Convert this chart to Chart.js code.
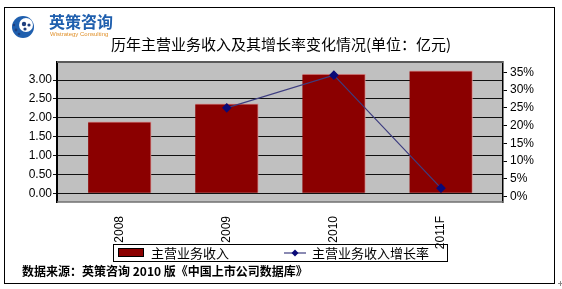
<!DOCTYPE html>
<html>
<head>
<meta charset="utf-8">
<script src="https://cdn.jsdelivr.net/npm/chart.js@4/dist/chart.umd.min.js"></script>
<style>
  html, body { margin: 0; padding: 0; background: #ffffff; }
  #c { display: block; }
</style>
</head>
<body>
<canvas id="c" width="562" height="289" style="width:562px;height:289px"></canvas>
<script>
// ---- data ----
const categories = ['2008', '2009', '2010', '2011F'];
const revenue = [1.89, 2.37, 3.16, 3.24];          // 主营业务收入 (亿元)
const growth = [null, 25.0, 34.2, 2.4];            // 增长率 (%)
const leftTicks = [0, 0.5, 1, 1.5, 2, 2.5, 3];
const rightTicks = [0, 5, 10, 15, 20, 25, 30, 35];
const seriesNames = ['主营业务收入', '主营业务收入增长率'];
const titleText = '历年主营业务收入及其增长率变化情况(单位：亿元)';
const sourceText = '数据来源：英策咨询 2010 版《中国上市公司数据库》';
const logoCn = '英策咨询';
const logoEn = 'Wistrategy Consulting';

const BAR_COLOR = '#8B0000';
const LINE_COLOR = '#3d3d80';
const POINT_COLOR = '#0a0a78';
const CJK = '"Noto Sans CJK SC", "Noto Sans CJK TC", sans-serif';
const LAT = '"Liberation Sans", Arial, sans-serif';

const decor = {
  id: 'decor',
  beforeDraw(chart) {
    const ctx = chart.ctx, a = chart.chartArea;
    ctx.save();
    ctx.fillStyle = '#ffffff';
    ctx.fillRect(0, 0, chart.width, chart.height);
    ctx.fillStyle = '#c0c0c0';
    ctx.fillRect(a.left, a.top, a.right - a.left, a.bottom - a.top);
    ctx.restore();
  },
  afterDraw(chart) {
    const ctx = chart.ctx, a = chart.chartArea;
    ctx.save();
    // plot frame top / bottom
    ctx.strokeStyle = '#5a5a5a';
    ctx.lineWidth = 2;
    ctx.beginPath(); ctx.moveTo(a.left, a.top); ctx.lineTo(a.right, a.top); ctx.stroke();
    ctx.strokeStyle = '#707070';
    ctx.lineWidth = 1.5;
    ctx.beginPath(); ctx.moveTo(a.left, a.bottom); ctx.lineTo(a.right, a.bottom); ctx.stroke();

    // outer frame
    ctx.strokeStyle = '#000';
    ctx.lineWidth = 1;
    ctx.strokeRect(4.5, 7.5, 550, 276);

    // small anchor mark
    ctx.strokeStyle = '#888';
    ctx.beginPath(); ctx.moveTo(558, 283.5); ctx.lineTo(562, 283.5); ctx.moveTo(560.5, 281); ctx.lineTo(560.5, 286); ctx.stroke();

    // logo icon
    ctx.fillStyle = '#1f5fae';
    ctx.beginPath(); ctx.arc(23, 27, 11, 0, Math.PI * 2); ctx.fill();
    ctx.fillStyle = '#ffffff';
    ctx.beginPath(); ctx.arc(26, 25, 7, 0, Math.PI * 2); ctx.fill();
    ctx.fillStyle = '#1f3f7e';
    [[24, 24, 2.2], [29, 25, 1.6], [25, 29, 1.6], [16, 30, 1.4], [19, 34, 1.3], [14, 25, 1.2]].forEach(p => {
      ctx.beginPath(); ctx.arc(p[0], p[1], p[2], 0, Math.PI * 2); ctx.fill();
    });
    ctx.fillStyle = '#1f5fae';
    ctx.font = 'bold 16px ' + CJK;
    ctx.textBaseline = 'middle';
    ctx.textAlign = 'left';
    ctx.fillText(logoCn, 49, 22);
    ctx.fillStyle = '#e0902a';
    ctx.font = '6px ' + LAT;
    ctx.fillText(logoEn, 50, 34);

    // title
    ctx.fillStyle = '#000';
    ctx.font = '15px ' + CJK;
    ctx.textAlign = 'center';
    ctx.fillText(titleText, 281, 44);

    // legend
    ctx.strokeStyle = '#000';
    ctx.lineWidth = 1;
    ctx.strokeRect(113.5, 244.5, 334, 17);
    const ds = chart.data.datasets;
    ctx.fillStyle = ds[0].backgroundColor;
    ctx.fillRect(118, 248, 26, 9);
    ctx.strokeStyle = '#000';
    ctx.strokeRect(118.5, 248.5, 25, 8);
    ctx.fillStyle = '#000';
    ctx.font = '13px ' + CJK;
    ctx.textAlign = 'left';
    ctx.fillText(ds[0].label, 151, 253);
    ctx.strokeStyle = ds[1].borderColor;
    ctx.lineWidth = 1.2;
    ctx.beginPath(); ctx.moveTo(284, 253); ctx.lineTo(306, 253); ctx.stroke();
    ctx.fillStyle = POINT_COLOR;
    ctx.beginPath(); ctx.moveTo(295, 249.5); ctx.lineTo(298.5, 253); ctx.lineTo(295, 256.5); ctx.lineTo(291.5, 253); ctx.closePath(); ctx.fill();
    ctx.fillStyle = '#000';
    ctx.fillText(ds[1].label, 312, 253);

    // source
    ctx.font = 'bold 12px ' + CJK;
    ctx.fillText(sourceText, 22, 271);
    ctx.restore();
  }
};

new Chart(document.getElementById('c'), {
  type: 'bar',
  data: {
    datasets: [
      {
        type: 'bar',
        label: seriesNames[0],
        data: revenue.map((v, i) => ({ x: i, y: v })),
        backgroundColor: BAR_COLOR,
        borderColor: '#d89090',
        borderWidth: { top: 1, right: 1, left: 0, bottom: 0 },
        borderSkipped: false,
        barThickness: 63,
        yAxisID: 'y',
        order: 2
      },
      {
        type: 'line',
        label: seriesNames[1],
        data: growth.map((v, i) => ({ x: i, y: v })),
        borderColor: LINE_COLOR,
        borderWidth: 1.2,
        pointStyle: 'rectRot',
        pointRadius: 4,
        pointBackgroundColor: POINT_COLOR,
        pointBorderColor: POINT_COLOR,
        tension: 0,
        yAxisID: 'y1',
        order: 1
      }
    ]
  },
  options: {
    responsive: false,
    animation: false,
    devicePixelRatio: 1,
    layout: { padding: { left: 0, right: 0, top: 62, bottom: 0 } },
    plugins: { legend: { display: false }, title: { display: false }, tooltip: { enabled: false } },
    scales: {
      x: {
        type: 'linear',
        position: 'bottom',
        min: -0.585,
        max: 3.579,
        offset: false,
        grid: { display: false, offset: false },
        border: { display: false },
        afterBuildTicks: s => { s.ticks = categories.map((c, i) => ({ value: i })); },
        afterFit: s => { s.height = 87; },
        ticks: {
          autoSkip: false,
          minRotation: 90,
          maxRotation: 90,
          padding: 6,
          color: '#000',
          font: { family: LAT, size: 12 },
          callback: v => categories[v]
        }
      },
      y: {
        type: 'linear',
        position: 'left',
        min: -0.23,
        max: 3.477,
        afterBuildTicks: s => { s.ticks = leftTicks.map(v => ({ value: v })); },
        afterFit: s => { s.width = 57; },
        grid: { color: '#111', lineWidth: 1, tickLength: 4, drawTicks: true },
        border: { color: '#000', width: 2 },
        ticks: {
          padding: 1,
          color: '#000',
          font: { family: LAT, size: 12 },
          callback: v => v.toFixed(2)
        }
      },
      y1: {
        type: 'linear',
        position: 'right',
        min: -1.49,
        max: 37.9,
        afterBuildTicks: s => { s.ticks = rightTicks.map(v => ({ value: v })); },
        afterFit: s => { s.width = 59; },
        grid: { drawOnChartArea: false, color: '#000', tickLength: 4, drawTicks: true },
        border: { color: '#000', width: 1.5 },
        ticks: {
          padding: 3,
          color: '#000',
          font: { family: LAT, size: 12 },
          callback: v => v + '%'
        }
      }
    }
  },
  plugins: [decor]
});
</script>
</body>
</html>
